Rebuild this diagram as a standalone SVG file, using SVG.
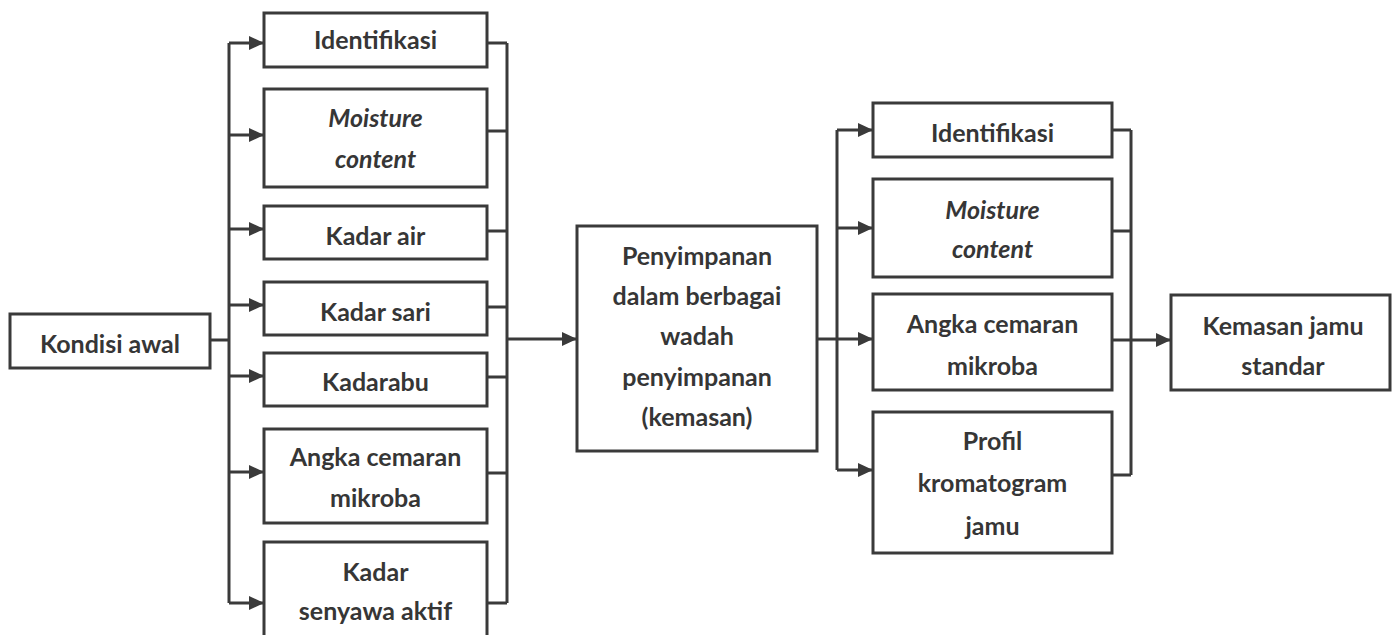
<svg xmlns="http://www.w3.org/2000/svg" width="1392" height="635" viewBox="0 0 1392 635">
<defs>
<style>
.box{fill:#fff;stroke:#3a3a3a;stroke-width:3}
.ln{fill:none;stroke:#3a3a3a;stroke-width:3}
text{font-family:Lato,"Open Sans","Liberation Sans",sans-serif;font-weight:bold;font-size:25px;fill:#363636;text-anchor:middle}
.it{font-style:italic}
</style>
<marker id="ah" viewBox="0 0 15 14" refX="15" refY="7" markerWidth="15" markerHeight="14" markerUnits="userSpaceOnUse" orient="auto">
<path d="M0,0 L15,7 L0,14 Z" fill="#3a3a3a"/>
</marker>
</defs>
<rect width="1392" height="635" fill="#fff"/>
<g id="connectors">
<path class="ln" d="M210,340 H229"/>
<path class="ln" d="M229,43 V603"/>
<path class="ln" marker-end="url(#ah)" d="M229,43 H264"/>
<path class="ln" marker-end="url(#ah)" d="M229,135 H264"/>
<path class="ln" marker-end="url(#ah)" d="M229,229 H264"/>
<path class="ln" marker-end="url(#ah)" d="M229,305 H264"/>
<path class="ln" marker-end="url(#ah)" d="M229,376 H264"/>
<path class="ln" marker-end="url(#ah)" d="M229,472 H264"/>
<path class="ln" marker-end="url(#ah)" d="M229,603 H264"/>
<path class="ln" d="M487,43 H507 M487,131 H507 M487,231 H507 M487,307 H507 M487,377 H507 M487,473 H507 M487,603 H507"/>
<path class="ln" d="M507,43 V603"/>
<path class="ln" marker-end="url(#ah)" d="M507,339 H577"/>
<path class="ln" d="M817,339 H837"/>
<path class="ln" d="M837,130 V470"/>
<path class="ln" marker-end="url(#ah)" d="M837,130 H873"/>
<path class="ln" marker-end="url(#ah)" d="M837,228 H873"/>
<path class="ln" marker-end="url(#ah)" d="M837,339 H873"/>
<path class="ln" marker-end="url(#ah)" d="M837,470 H873"/>
<path class="ln" d="M1112,130 H1131 M1112,231 H1131 M1112,475 H1131"/>
<path class="ln" d="M1131,130 V475"/>
<path class="ln" marker-end="url(#ah)" d="M1112,340 H1171"/>
</g>
<g id="kondisi"><rect class="box" x="10" y="314" width="200" height="54"/><text x="110" y="353">Kondisi awal</text></g>
<g id="l-identifikasi"><rect class="box" x="264" y="13" width="223" height="54"/><text x="375.5" y="49">Identifikasi</text></g>
<g id="l-moisture"><rect class="box" x="264" y="89" width="223" height="98"/><text class="it" x="375.5" y="127">Moisture</text><text class="it" x="375.5" y="168">content</text></g>
<g id="l-kadar-air"><rect class="box" x="264" y="206" width="223" height="53"/><text x="375.5" y="245">Kadar air</text></g>
<g id="l-kadar-sari"><rect class="box" x="264" y="282" width="223" height="53"/><text x="375.5" y="321">Kadar sari</text></g>
<g id="l-kadarabu"><rect class="box" x="264" y="353" width="223" height="53"/><text x="375.5" y="391">Kadarabu</text></g>
<g id="l-angka"><rect class="box" x="264" y="429" width="223" height="94"/><text x="375.5" y="466">Angka cemaran</text><text x="375.5" y="507">mikroba</text></g>
<g id="l-senyawa"><rect class="box" x="264" y="542" width="223" height="103"/><text x="375.5" y="581">Kadar</text><text x="375.5" y="620">senyawa aktif</text></g>
<g id="penyimpanan"><rect class="box" x="577" y="226" width="240" height="225"/><text x="697" y="265">Penyimpanan</text><text x="697" y="305">dalam berbagai</text><text x="697" y="345">wadah</text><text x="697" y="386">penyimpanan</text><text x="697" y="426">(kemasan)</text></g>
<g id="r-identifikasi"><rect class="box" x="873" y="103" width="239" height="54"/><text x="992.5" y="142">Identifikasi</text></g>
<g id="r-moisture"><rect class="box" x="873" y="179" width="239" height="98"/><text class="it" x="992.5" y="219">Moisture</text><text class="it" x="992.5" y="258">content</text></g>
<g id="r-angka"><rect class="box" x="873" y="294" width="239" height="96"/><text x="992.5" y="333">Angka cemaran</text><text x="992.5" y="375">mikroba</text></g>
<g id="r-profil"><rect class="box" x="873" y="412" width="239" height="141"/><text x="992.5" y="450">Profil</text><text x="992.5" y="492">kromatogram</text><text x="992.5" y="535">jamu</text></g>
<g id="kemasan"><rect class="box" x="1171" y="295" width="219" height="95"/><text x="1283" y="335">Kemasan jamu</text><text x="1283" y="375">standar</text></g>
</svg>
